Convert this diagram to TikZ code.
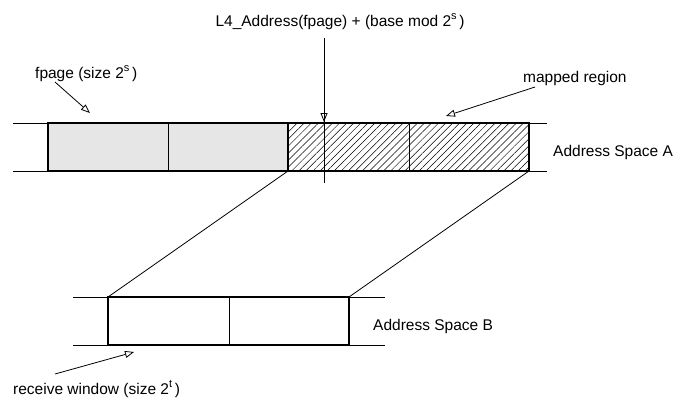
\documentclass[tikz,border=0pt]{standalone}
\usepackage{fontspec}
\setmainfont{Liberation Sans}
\usetikzlibrary{arrows.meta,patterns.meta}
\definecolor{pagegray}{HTML}{E6E6E6}
\newcommand{\supx}[1]{\raisebox{0.42em}{\fontsize{11pt}{12pt}\selectfont #1}\,}
\tikzset{
  thinline/.style={line width=0.8pt},
  boxline/.style={line width=1.7pt},
  opentip/.style={-{Triangle[open,length=9pt,width=7pt]}, line width=0.8pt},
  lbl/.style={font=\fontsize{15.5pt}{17pt}\selectfont, inner sep=0pt, anchor=base west},
  hatch/.style={pattern={Lines[angle=45,distance=5pt,line width=0.5pt]}}
}
\begin{document}
\begin{tikzpicture}[x=1pt,y=-1pt]
\useasboundingbox (0,0) rectangle (682,399);
% Address space A
\coordinate (aTL) at (48,123);
\coordinate (aBR) at (529,171);
\coordinate (hTL) at (288,123);
\coordinate (hBL) at (288,171);
\coordinate (hBR) at (529,171);
\draw[thinline] (13,123) -- (547,123);
\draw[thinline] (13,171) -- (547,171);
\fill[pagegray] (48,123) rectangle (288,171);
\fill[white] (288,123) rectangle (529,171);
\fill[hatch] (288,123) rectangle (529,171);
\draw[thinline] (168,123) -- (168,171);
\draw[thinline] (409,123) -- (409,171);
\draw[boxline] (aTL) rectangle (aBR);
\draw[boxline] (288,123) -- (288,171);
% Address space B
\coordinate (bTL) at (108,297);
\coordinate (bTR) at (349,297);
\draw[thinline] (73,297) -- (385,297);
\draw[thinline] (73,345) -- (385,345);
\fill[white] (108,297) rectangle (349,345);
\draw[thinline] (229,297) -- (229,345);
\draw[boxline] (108,297) rectangle (349,345);
% mapping lines
\draw[thinline] (hBL) -- (bTL);
\draw[thinline] (hBR) -- (bTR);
% labels
\node[lbl, anchor=base] (l4) at (340,26) {L4\_Address(fpage) + (base mod 2\supx{s})};
\coordinate (vtop) at (324,38);
\coordinate (vtip) at (324,122);
\coordinate (vbot) at (324,183);
\draw[thinline] (vtop) -- (vbot);
\draw[opentip] (vtop) -- (vtip);
\node[lbl] (fp) at (35,78) {fpage (size 2\supx{s})};
\coordinate (fpS) at (55,82);
\coordinate (fpE) at (90,113);
\draw[opentip] (fpS) -- (fpE);
\node[lbl] (mr) at (523,82) {mapped region};
\coordinate (mrS) at (535,87);
\coordinate (mrE) at (446,116);
\draw[opentip] (mrS) -- (mrE);
\node[lbl] (asA) at (553,156) {Address Space A};
\node[lbl] (asB) at (373,330) {Address Space B};
\node[lbl] (rw) at (13,394) {receive window (size 2\supx{t})};
\coordinate (rwS) at (55,374);
\coordinate (rwE) at (134,352);
\draw[opentip] (rwS) -- (rwE);
\end{tikzpicture}
\end{document}
